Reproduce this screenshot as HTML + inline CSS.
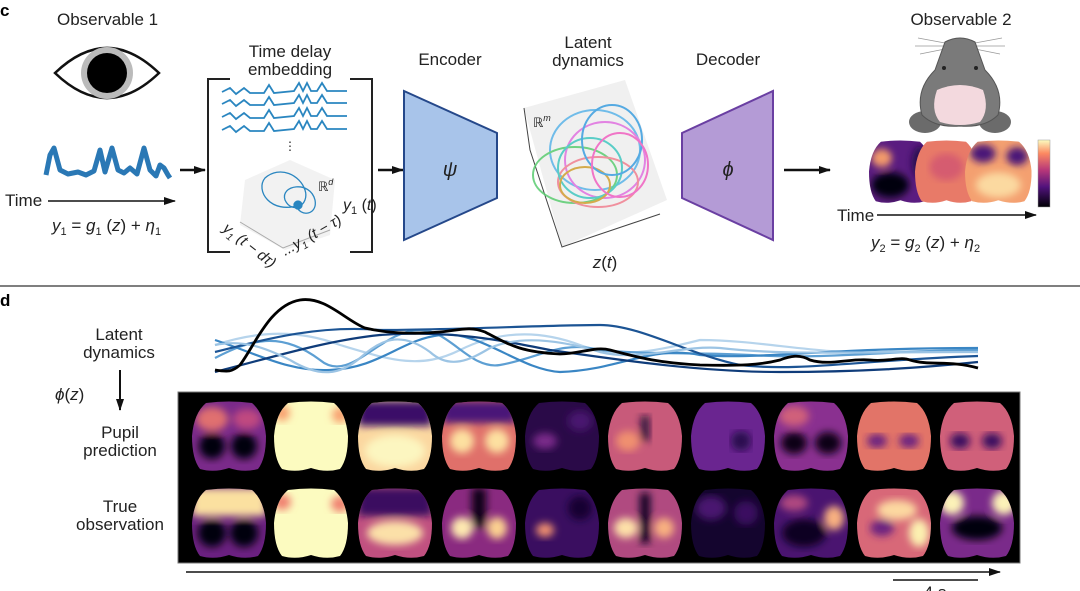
<!DOCTYPE html>
<html><head><meta charset="utf-8"><style>
html,body{margin:0;padding:0;background:#fff}
svg{display:block}
text{font-family:"Liberation Sans",sans-serif;fill:#222}
</style></head><body>
<svg width="1080" height="591" viewBox="0 0 1080 591" xmlns="http://www.w3.org/2000/svg">
<defs>
<clipPath id="bc"><path d="M14,2 Q37,-1 60,2 Q72,12 74,35 Q74,58 66,68 Q52,72 37,67 Q22,72 8,68 Q0,58 0,35 Q2,12 14,2 Z"/></clipPath>
<linearGradient id="cb" x1="0" y1="1" x2="0" y2="0">
<stop offset="0" stop-color="#000004"/><stop offset="0.3" stop-color="#51127c"/><stop offset="0.55" stop-color="#b73779"/><stop offset="0.8" stop-color="#fc8961"/><stop offset="1" stop-color="#fcfdbf"/></linearGradient>
<filter id="bl"><feGaussianBlur stdDeviation="4"/></filter>
<marker id="ah" markerUnits="userSpaceOnUse" markerWidth="12" markerHeight="10" refX="11" refY="5" orient="auto"><path d="M0,1 L12,5 L0,9 Z" fill="#111"/></marker>
</defs>

<text x="0" y="16" font-size="17" font-weight="bold" style="fill:#000">c</text>
<text x="57" y="25" font-size="17">Observable 1</text>
<!-- eye -->
<path d="M55,73 Q107,23 159,73 Q107,123 55,73 Z" fill="#fff" stroke="#111" stroke-width="2.5"/>
<circle cx="107" cy="73" r="26" fill="#bbb"/><circle cx="107" cy="73" r="20" fill="#000"/>
<!-- signal -->
<path d="M46,175 L50,155 L54,148 L60,170 L68,174 L78,172 L86,175 L94,171 L100,150 L105,172 L112,148 L118,170 L124,173 L130,168 L137,174 L144,148 L150,170 L156,176 L160,165 L164,168 L168,175 L170,178" fill="none" stroke="#2a78b5" stroke-width="5" stroke-linejoin="round"/>
<text x="5" y="206" font-size="17">Time</text>
<line x1="48" y1="201" x2="175" y2="201" stroke="#111" stroke-width="1.5" marker-end="url(#ah)"/>
<text x="52" y="231" font-size="17" font-style="italic">y<tspan font-size="11" dy="4" font-style="normal">1</tspan><tspan dy="-4" font-style="normal"> = </tspan>g<tspan font-size="11" dy="4" font-style="normal">1</tspan><tspan dy="-4" font-style="normal"> (</tspan>z<tspan font-style="normal">) + </tspan>η<tspan font-size="11" dy="4" font-style="normal">1</tspan></text>
<line x1="180" y1="170" x2="205" y2="170" stroke="#111" stroke-width="2.5" marker-end="url(#ah)"/>

<!-- bracket -->
<path d="M230,79 L208,79 L208,252 L230,252 M350,79 L372,79 L372,252 L350,252" fill="none" stroke="#222" stroke-width="2"/>
<text x="290" y="57" font-size="17" text-anchor="middle">Time delay</text>
<text x="290" y="75" font-size="17" text-anchor="middle">embedding</text>
<g fill="none" stroke="#2a86c0" stroke-width="1.8">
<path d="M222,92 l8,-4 l6,6 l8,-6 l6,5 l14,0 l5,-8 l5,8 l20,-2 l5,-8 l4,8 l4,-8 l4,8 l6,0 l5,-8 l5,8 l20,0"/>
<path d="M222,104 l8,-4 l6,6 l8,-6 l6,5 l14,0 l5,-8 l5,8 l20,-2 l5,-8 l4,8 l4,-8 l4,8 l6,0 l5,-8 l5,8 l20,0"/>
<path d="M222,117 l8,-4 l6,6 l8,-6 l6,5 l14,0 l5,-8 l5,8 l20,-2 l5,-8 l4,8 l4,-8 l4,8 l6,0 l5,-8 l5,8 l20,0"/>
<path d="M222,130 l8,-4 l6,6 l8,-6 l6,5 l14,0 l5,-8 l5,8 l20,-2 l5,-8 l4,8 l4,-8 l4,8 l6,0 l5,-8 l5,8 l20,0"/>
</g>
<text x="290" y="150" font-size="12" text-anchor="middle">⋮</text>
<path d="M245,180 L290,160 L335,180 L330,235 L285,250 L240,225 Z" fill="#f2f2f2"/>
<path d="M240,222 L283,248 L330,230" fill="none" stroke="#aaa" stroke-width="1"/>
<g fill="none" stroke="#2a86c0" stroke-width="1.3">
<path d="M300,205 C270,215 255,190 265,178 C280,165 300,175 305,190 C310,205 292,215 285,200 C280,185 310,180 315,200 C318,215 300,218 296,205"/>
<circle cx="298" cy="205" r="4" fill="#2a86c0"/>
</g>
<text x="318" y="191" font-size="13">ℝ<tspan font-size="9" dy="-6" font-style="italic">d</tspan></text>
<text x="343" y="210" font-size="16" font-style="italic">y<tspan font-size="11" dy="4" font-style="normal">1</tspan><tspan dy="-4" font-style="normal"> (</tspan>t<tspan font-style="normal">)</tspan></text>
<text x="222" y="230" font-size="15" font-style="italic" transform="rotate(38 222 230)">y<tspan font-size="10" dy="4">1</tspan><tspan dy="-4"> (t − dτ)</tspan></text>
<text x="285" y="256" font-size="15" font-style="italic" transform="rotate(-30 285 256)">...y<tspan font-size="10" dy="4">1</tspan><tspan dy="-4"> (t − τ)</tspan></text>

<line x1="378" y1="170" x2="403" y2="170" stroke="#111" stroke-width="2.5" marker-end="url(#ah)"/>
<!-- encoder -->
<text x="450" y="65" font-size="17" text-anchor="middle">Encoder</text>
<path d="M404,91 L497,133 L497,198 L404,240 Z" fill="#a8c4ea" stroke="#25488a" stroke-width="2"/>
<text x="450" y="176" font-size="20" font-style="italic" text-anchor="middle">ψ</text>
<!-- latent -->
<text x="588" y="48" font-size="17" text-anchor="middle">Latent</text>
<text x="588" y="66" font-size="17" text-anchor="middle">dynamics</text>
<path d="M524,108 L625,80 L667,200 L562,247 Z" fill="#f0f0f0"/>
<path d="M524,108 L530,150 L562,247 L660,214" fill="none" stroke="#444" stroke-width="1"/>
<text x="533" y="127" font-size="13">ℝ<tspan font-size="9" dy="-6" font-style="italic">m</tspan></text>
<g fill="none" stroke-width="2" opacity="0.85">
<ellipse cx="595" cy="150" rx="45" ry="40" stroke="#5ab4e8"/>
<ellipse cx="605" cy="160" rx="40" ry="38" stroke="#e070e0"/>
<ellipse cx="575" cy="175" rx="42" ry="28" stroke="#5acc70"/>
<ellipse cx="598" cy="182" rx="40" ry="25" stroke="#f08090"/>
<ellipse cx="590" cy="168" rx="32" ry="30" stroke="#40c8c0"/>
<ellipse cx="585" cy="185" rx="25" ry="18" stroke="#d0a030"/>
<ellipse cx="612" cy="140" rx="30" ry="35" stroke="#3a9ee0"/>
<ellipse cx="620" cy="165" rx="28" ry="32" stroke="#f060c0"/>
</g>
<text x="605" y="268" font-size="17" font-style="italic" text-anchor="middle">z<tspan font-style="normal">(</tspan>t<tspan font-style="normal">)</tspan></text>
<!-- decoder -->
<text x="728" y="65" font-size="17" text-anchor="middle">Decoder</text>
<path d="M682,133 L773,91 L773,240 L682,198 Z" fill="#b49bd6" stroke="#6a3fa2" stroke-width="2"/>
<text x="728" y="176" font-size="20" font-style="italic" text-anchor="middle">ϕ</text>
<line x1="784" y1="170" x2="830" y2="170" stroke="#111" stroke-width="2.5" marker-end="url(#ah)"/>
<!-- mouse -->
<text x="961" y="25" font-size="17" text-anchor="middle">Observable 2</text>
<g stroke="#999" stroke-width="0.8" fill="none">
<path d="M945,43 L918,38 M945,46 L915,46 M945,49 L920,54 M975,43 L1002,38 M975,46 L1005,46 M975,49 L1000,54"/>
</g>
<ellipse cx="925" cy="122" rx="16" ry="11" fill="#6b6b6b"/>
<ellipse cx="995" cy="122" rx="16" ry="11" fill="#6b6b6b"/>
<path d="M945,42 Q960,34 975,42 L985,70 Q1005,90 998,115 Q985,128 960,126 Q935,128 922,115 Q915,90 935,70 Z" fill="#7a7a7a" stroke="#555" stroke-width="1"/>
<path d="M937,90 Q960,80 983,90 Q990,110 980,122 Q960,128 940,122 Q930,110 937,90 Z" fill="#f3d9de"/>
<circle cx="944" cy="68" r="2" fill="#222"/><circle cx="976" cy="68" r="2" fill="#222"/>
<!-- obs brains -->
<g transform="translate(869,140) scale(0.85,0.9)"><g clip-path="url(#bc)"><rect width="74" height="71" fill="#5a1c80"/><g filter="url(#bl)"><ellipse cx="25" cy="50" rx="22" ry="14" fill="#05020c"/><ellipse cx="15" cy="20" rx="12" ry="10" fill="#f39a6a"/><ellipse cx="60" cy="25" rx="10" ry="18" fill="#2a0d50"/></g></g></g>
<g transform="translate(915,140) scale(0.85,0.9)"><g clip-path="url(#bc)"><rect width="74" height="71" fill="#e87a68"/><g filter="url(#bl)"><ellipse cx="37" cy="30" rx="20" ry="15" fill="#d55c70"/></g></g></g>
<g transform="translate(965,140) scale(0.9,0.9)"><g clip-path="url(#bc)"><rect width="74" height="71" fill="#f4a070"/><g filter="url(#bl)"><ellipse cx="20" cy="15" rx="14" ry="10" fill="#4a1478"/><ellipse cx="58" cy="18" rx="12" ry="10" fill="#4a1478"/><ellipse cx="37" cy="50" rx="25" ry="14" fill="#fbd9a0"/></g></g></g>
<rect x="1038" y="140" width="12" height="67" fill="url(#cb)" stroke="#999" stroke-width="0.5"/>
<text x="837" y="221" font-size="17">Time</text>
<line x1="877" y1="215" x2="1036" y2="215" stroke="#111" stroke-width="1.5" marker-end="url(#ah)"/>
<text x="871" y="248" font-size="17" font-style="italic">y<tspan font-size="11" dy="4" font-style="normal">2</tspan><tspan dy="-4" font-style="normal"> = </tspan>g<tspan font-size="11" dy="4" font-style="normal">2</tspan><tspan dy="-4" font-style="normal"> (</tspan>z<tspan font-style="normal">) + </tspan>η<tspan font-size="11" dy="4" font-style="normal">2</tspan></text>

<line x1="0" y1="286" x2="1080" y2="286" stroke="#555" stroke-width="1.5"/>

<!-- d -->
<text x="0" y="306" font-size="17" font-weight="bold" style="fill:#000">d</text>
<text x="119" y="340" font-size="17" text-anchor="middle">Latent</text>
<text x="119" y="358" font-size="17" text-anchor="middle">dynamics</text>
<line x1="120" y1="370" x2="120" y2="410" stroke="#111" stroke-width="2" marker-end="url(#ah)"/>
<text x="55" y="400" font-size="17" font-style="italic">ϕ<tspan font-style="normal">(</tspan>z<tspan font-style="normal">)</tspan></text>
<text x="120" y="438" font-size="17" text-anchor="middle">Pupil</text>
<text x="120" y="456" font-size="17" text-anchor="middle">prediction</text>
<text x="120" y="512" font-size="17" text-anchor="middle">True</text>
<text x="120" y="530" font-size="17" text-anchor="middle">observation</text>

<g fill="none" stroke-width="2.2">
<path d="M215,345 C260,330 300,330 340,345 C390,360 420,370 460,350 C500,330 540,330 580,345 C620,360 660,350 700,340 C760,340 820,355 880,352 C930,350 960,352 978,352" stroke="#b6d4ec"/>
<path d="M215,358 C250,340 280,330 320,360 C350,385 380,330 420,330 C450,330 470,370 500,365 C540,358 560,340 600,350 C650,355 700,352 750,355 C820,360 900,350 978,350" stroke="#5d9fd3"/>
<path d="M215,340 C260,355 290,372 330,370 C380,368 400,340 440,335 C480,330 520,370 560,372 C620,370 650,345 700,355 C760,360 820,348 978,348" stroke="#3a86c4"/>
<path d="M215,352 C270,338 320,325 380,330 C450,330 550,325 600,325 C640,325 690,355 740,365 C800,372 860,360 978,356" stroke="#1c5494"/>
<path d="M215,372 C280,355 330,340 380,335 C450,330 500,340 550,350 C620,360 700,372 780,372 C860,372 920,368 978,362" stroke="#0f3c7a"/>
<path d="M215,345 C240,340 260,345 290,360 C320,378 340,375 360,358 C380,340 400,330 430,352 C450,370 470,360 490,348 C520,335 560,340 600,352 C640,362 680,345 720,348 C780,355 840,352 978,352" stroke="#9cc4e4"/>
<path d="M215,370 C228,372 232,372 240,365 C255,345 270,305 300,300 C325,296 345,320 365,328 C390,334 420,334 440,332 C460,330 470,326 485,332 C510,345 520,352 560,354 C580,354 595,346 610,350 C640,358 660,363 700,365 C740,366 760,365 780,360 C790,356 800,354 810,360 C830,366 850,358 870,360 C890,362 900,356 910,360 C930,366 950,360 978,368" stroke="#000" stroke-width="2.8"/>
</g>

<!-- black panel -->
<rect x="178" y="392" width="842" height="171" fill="#000" stroke="#777" stroke-width="1"/>
<!-- row 1 -->
<g transform="translate(192,401)"><g clip-path="url(#bc)"><rect width="74" height="71" fill="#7a2a8a"/><g filter="url(#bl)"><ellipse cx="20" cy="18" rx="16" ry="12" fill="#e07070"/><ellipse cx="55" cy="18" rx="14" ry="10" fill="#c04a80"/><ellipse cx="20" cy="45" rx="13" ry="13" fill="#050110"/><ellipse cx="52" cy="45" rx="13" ry="13" fill="#050110"/></g></g></g>
<g transform="translate(274,401)"><g clip-path="url(#bc)"><rect width="74" height="71" fill="#fcfbc0"/><g filter="url(#bl)"><ellipse cx="8" cy="12" rx="8" ry="8" fill="#f8a070"/><ellipse cx="66" cy="14" rx="8" ry="8" fill="#f8a070"/></g></g></g>
<g transform="translate(358,401)"><g clip-path="url(#bc)"><rect width="74" height="71" fill="#fbd7a0"/><g filter="url(#bl)"><rect x="0" y="0" width="74" height="25" fill="#3a1068"/><ellipse cx="37" cy="50" rx="30" ry="16" fill="#fcf6c0"/></g></g></g>
<g transform="translate(442,401)"><g clip-path="url(#bc)"><rect width="74" height="71" fill="#e0706a"/><g filter="url(#bl)"><rect x="0" y="0" width="74" height="22" fill="#4a1478"/><ellipse cx="20" cy="40" rx="12" ry="12" fill="#fde0a0"/><ellipse cx="55" cy="40" rx="12" ry="12" fill="#fde0a0"/></g></g></g>
<g transform="translate(525,401)"><g clip-path="url(#bc)"><rect width="74" height="71" fill="#2a0a48"/><g filter="url(#bl)"><ellipse cx="20" cy="40" rx="12" ry="8" fill="#7a2a8a"/><ellipse cx="55" cy="20" rx="12" ry="10" fill="#4a1470"/></g></g></g>
<g transform="translate(608,401)"><g clip-path="url(#bc)"><rect width="74" height="71" fill="#c85a7a"/><g filter="url(#bl)"><rect x="33" y="15" width="8" height="25" fill="#200838"/><ellipse cx="20" cy="40" rx="12" ry="10" fill="#f09070"/></g></g></g>
<g transform="translate(691,401)"><g clip-path="url(#bc)"><rect width="74" height="71" fill="#6a2590"/><g filter="url(#bl)"><ellipse cx="50" cy="40" rx="10" ry="10" fill="#2a0a50"/></g></g></g>
<g transform="translate(774,401)"><g clip-path="url(#bc)"><rect width="74" height="71" fill="#8a3090"/><g filter="url(#bl)"><ellipse cx="20" cy="15" rx="15" ry="10" fill="#d0607a"/><ellipse cx="20" cy="42" rx="13" ry="11" fill="#070215"/><ellipse cx="54" cy="42" rx="13" ry="11" fill="#070215"/></g></g></g>
<g transform="translate(857,401)"><g clip-path="url(#bc)"><rect width="74" height="71" fill="#e27468"/><g filter="url(#bl)"><ellipse cx="20" cy="40" rx="10" ry="7" fill="#6a2080"/><ellipse cx="52" cy="40" rx="10" ry="7" fill="#6a2080"/></g></g></g>
<g transform="translate(940,401)"><g clip-path="url(#bc)"><rect width="74" height="71" fill="#d0607a"/><g filter="url(#bl)"><ellipse cx="20" cy="40" rx="10" ry="8" fill="#3a0e60"/><ellipse cx="52" cy="40" rx="10" ry="8" fill="#3a0e60"/></g></g></g>
<!-- row 2 -->
<g transform="translate(192,488)"><g clip-path="url(#bc)"><rect width="74" height="71" fill="#6a2080"/><g filter="url(#bl)"><rect x="0" y="0" width="74" height="28" fill="#fbe0a0"/><ellipse cx="20" cy="45" rx="14" ry="14" fill="#030008"/><ellipse cx="52" cy="45" rx="14" ry="14" fill="#030008"/></g></g></g>
<g transform="translate(274,488)"><g clip-path="url(#bc)"><rect width="74" height="71" fill="#fcfbc0"/><g filter="url(#bl)"><ellipse cx="8" cy="14" rx="9" ry="8" fill="#f08070"/><ellipse cx="66" cy="16" rx="9" ry="8" fill="#f08070"/></g></g></g>
<g transform="translate(358,488)"><g clip-path="url(#bc)"><rect width="74" height="71" fill="#c05080"/><g filter="url(#bl)"><rect x="0" y="0" width="74" height="28" fill="#3a1060"/><ellipse cx="37" cy="45" rx="28" ry="12" fill="#fbe0a8"/></g></g></g>
<g transform="translate(442,488)"><g clip-path="url(#bc)"><rect width="74" height="71" fill="#8a2a80"/><g filter="url(#bl)"><rect x="30" y="0" width="14" height="40" fill="#0a0218"/><ellipse cx="20" cy="40" rx="11" ry="11" fill="#fde8b0"/><ellipse cx="55" cy="40" rx="10" ry="11" fill="#fbd090"/></g></g></g>
<g transform="translate(525,488)"><g clip-path="url(#bc)"><rect width="74" height="71" fill="#3a0e60"/><g filter="url(#bl)"><ellipse cx="20" cy="42" rx="9" ry="7" fill="#f09070"/><ellipse cx="55" cy="20" rx="12" ry="12" fill="#120430"/></g></g></g>
<g transform="translate(608,488)"><g clip-path="url(#bc)"><rect width="74" height="71" fill="#b04a80"/><g filter="url(#bl)"><rect x="32" y="5" width="10" height="50" fill="#0a0220"/><ellipse cx="18" cy="40" rx="12" ry="10" fill="#fde0a8"/><ellipse cx="56" cy="40" rx="10" ry="10" fill="#f8b080"/></g></g></g>
<g transform="translate(691,488)"><g clip-path="url(#bc)"><rect width="74" height="71" fill="#14052e"/><g filter="url(#bl)"><ellipse cx="20" cy="20" rx="15" ry="12" fill="#4a1470"/><ellipse cx="55" cy="25" rx="12" ry="12" fill="#3a0e60"/></g></g></g>
<g transform="translate(774,488)"><g clip-path="url(#bc)"><rect width="74" height="71" fill="#4a1470"/><g filter="url(#bl)"><ellipse cx="30" cy="45" rx="22" ry="14" fill="#0a0220"/><ellipse cx="60" cy="30" rx="10" ry="12" fill="#f8b080"/><ellipse cx="20" cy="15" rx="14" ry="8" fill="#b04a80"/></g></g></g>
<g transform="translate(857,488)"><g clip-path="url(#bc)"><rect width="74" height="71" fill="#d86878"/><g filter="url(#bl)"><ellipse cx="40" cy="22" rx="20" ry="10" fill="#fcd8a0"/><ellipse cx="62" cy="45" rx="10" ry="14" fill="#fcf0b0"/><ellipse cx="25" cy="40" rx="12" ry="8" fill="#6a2080"/></g></g></g>
<g transform="translate(940,488)"><g clip-path="url(#bc)"><rect width="74" height="71" fill="#7a2a8a"/><g filter="url(#bl)"><ellipse cx="12" cy="15" rx="12" ry="12" fill="#fcf2b8"/><ellipse cx="64" cy="15" rx="12" ry="12" fill="#fcf2b8"/><ellipse cx="37" cy="40" rx="25" ry="12" fill="#030008"/></g></g></g>

<line x1="186" y1="572" x2="1000" y2="572" stroke="#111" stroke-width="1.5" marker-end="url(#ah)"/>
<line x1="893" y1="580" x2="978" y2="580" stroke="#111" stroke-width="1.5"/>
<text x="935" y="598" font-size="17" text-anchor="middle">4 s</text>
</svg>
</body></html>
